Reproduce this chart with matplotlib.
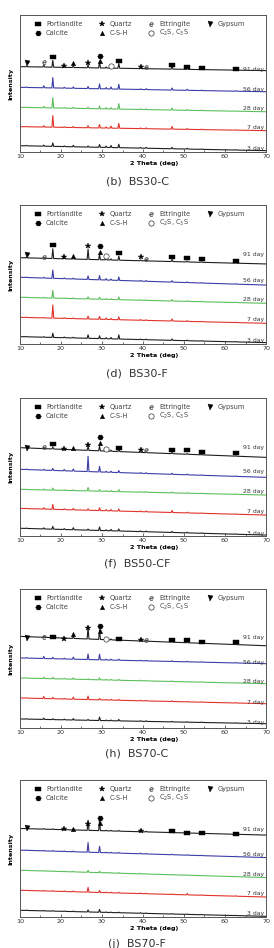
import matplotlib
matplotlib.use("Agg")
import matplotlib.pyplot as plt
from matplotlib.ticker import MultipleLocator

# -----------------------------
# data
# -----------------------------
DAYS = ["91 day", "56 day", "28 day", "7 day", "3 day"]
DAY_COLORS = ["#1e1e1e", "#3c3ca6", "#5cbf5c", "#e2332b", "#1e1e1e"]
CAPTIONS = ["(b)  BS30-C", "(d)  BS30-F", "(f)  BS50-CF", "(h)  BS70-C", "(j)  BS70-F"]

PEAK_POS = [11.6, 15.8, 18.0, 20.8, 23.0, 26.6, 29.4, 31.0, 32.2, 34.1,
            39.4, 40.8, 47.1, 50.8, 54.3, 62.6]

# peak heights (relative intensity), one row per day: 91, 56, 28, 7, 3
HEIGHTS_B = [
    [0.005, 0.015, 0.050, 0.008, 0.012, 0.020, 0.050, 0.008, 0.010, 0.035, 0.006, 0.008, 0.020, 0.010, 0.005, 0.005],
    [0.004, 0.015, 0.075, 0.006, 0.010, 0.015, 0.035, 0.010, 0.015, 0.035, 0.005, 0.006, 0.015, 0.008, 0.004, 0.004],
    [0.003, 0.010, 0.075, 0.005, 0.008, 0.010, 0.020, 0.008, 0.010, 0.040, 0.005, 0.006, 0.015, 0.006, 0.004, 0.003],
    [0.003, 0.010, 0.085, 0.005, 0.008, 0.015, 0.025, 0.008, 0.015, 0.035, 0.005, 0.006, 0.020, 0.006, 0.004, 0.003],
    [0.003, 0.008, 0.025, 0.005, 0.010, 0.008, 0.020, 0.010, 0.015, 0.025, 0.005, 0.006, 0.010, 0.006, 0.003, 0.003],
]
HEIGHTS_D = [
    [0.005, 0.006, 0.070, 0.010, 0.010, 0.075, 0.040, 0.012, 0.008, 0.030, 0.006, 0.005, 0.015, 0.006, 0.004, 0.004],
    [0.003, 0.005, 0.060, 0.006, 0.006, 0.025, 0.030, 0.010, 0.008, 0.025, 0.005, 0.005, 0.010, 0.005, 0.003, 0.003],
    [0.003, 0.004, 0.055, 0.004, 0.005, 0.015, 0.015, 0.006, 0.005, 0.020, 0.004, 0.004, 0.010, 0.004, 0.003, 0.003],
    [0.003, 0.004, 0.095, 0.005, 0.005, 0.020, 0.020, 0.010, 0.008, 0.020, 0.005, 0.004, 0.015, 0.005, 0.003, 0.003],
    [0.003, 0.004, 0.030, 0.005, 0.005, 0.025, 0.020, 0.008, 0.010, 0.030, 0.004, 0.004, 0.010, 0.004, 0.003, 0.003],
]
HEIGHTS_F = [
    [0.004, 0.006, 0.015, 0.006, 0.010, 0.030, 0.035, 0.006, 0.008, 0.015, 0.005, 0.005, 0.010, 0.005, 0.003, 0.003],
    [0.004, 0.006, 0.015, 0.010, 0.015, 0.110, 0.040, 0.006, 0.008, 0.015, 0.005, 0.005, 0.008, 0.005, 0.003, 0.003],
    [0.003, 0.006, 0.015, 0.005, 0.006, 0.025, 0.012, 0.005, 0.006, 0.015, 0.004, 0.005, 0.006, 0.004, 0.003, 0.003],
    [0.003, 0.010, 0.035, 0.006, 0.010, 0.010, 0.020, 0.008, 0.010, 0.015, 0.005, 0.006, 0.015, 0.005, 0.003, 0.003],
    [0.003, 0.008, 0.020, 0.006, 0.015, 0.008, 0.025, 0.006, 0.010, 0.015, 0.005, 0.005, 0.008, 0.005, 0.003, 0.003],
]
HEIGHTS_H = [
    [0.004, 0.010, 0.015, 0.008, 0.015, 0.085, 0.070, 0.006, 0.006, 0.010, 0.005, 0.005, 0.006, 0.004, 0.003, 0.003],
    [0.004, 0.015, 0.010, 0.006, 0.015, 0.040, 0.040, 0.005, 0.006, 0.008, 0.004, 0.004, 0.005, 0.004, 0.003, 0.003],
    [0.003, 0.010, 0.010, 0.005, 0.010, 0.006, 0.015, 0.004, 0.005, 0.006, 0.004, 0.004, 0.004, 0.003, 0.003, 0.003],
    [0.003, 0.015, 0.010, 0.005, 0.015, 0.025, 0.010, 0.004, 0.005, 0.006, 0.004, 0.004, 0.005, 0.003, 0.003, 0.003],
    [0.003, 0.010, 0.006, 0.005, 0.010, 0.006, 0.025, 0.004, 0.005, 0.010, 0.004, 0.004, 0.004, 0.003, 0.003, 0.003],
]
HEIGHTS_J = [
    [0.003, 0.004, 0.004, 0.005, 0.010, 0.073, 0.075, 0.004, 0.004, 0.005, 0.006, 0.004, 0.004, 0.003, 0.003, 0.003],
    [0.003, 0.003, 0.004, 0.004, 0.005, 0.070, 0.045, 0.004, 0.004, 0.005, 0.005, 0.004, 0.004, 0.003, 0.003, 0.003],
    [0.002, 0.003, 0.003, 0.003, 0.004, 0.015, 0.010, 0.003, 0.003, 0.004, 0.004, 0.003, 0.003, 0.003, 0.002, 0.002],
    [0.003, 0.003, 0.004, 0.004, 0.005, 0.035, 0.015, 0.004, 0.004, 0.005, 0.005, 0.004, 0.004, 0.010, 0.003, 0.003],
    [0.003, 0.003, 0.003, 0.003, 0.004, 0.015, 0.020, 0.003, 0.003, 0.004, 0.004, 0.003, 0.003, 0.003, 0.002, 0.002],
]

# baseline level at 10 deg and at the end of the scan
BASE_B = [(0.623, 0.594), (0.472, 0.440), (0.326, 0.294), (0.185, 0.156), (0.046, 0.010)]
BASE_D = [(0.621, 0.576), (0.480, 0.424), (0.336, 0.293), (0.192, 0.149), (0.053, 0.010)]
BASE_F = [(0.640, 0.570), (0.483, 0.425), (0.338, 0.297), (0.200, 0.152), (0.056, 0.007)]
BASE_H = [(0.659, 0.592), (0.504, 0.463), (0.360, 0.319), (0.216, 0.175), (0.065, 0.031)]
BASE_J = [(0.646, 0.598), (0.488, 0.434), (0.341, 0.288), (0.195, 0.146), (0.049, 0.005)]

# day label heights
LABEL_Y_B = [0.605, 0.457, 0.319, 0.178, 0.027]
LABEL_Y_D = [0.647, 0.460, 0.317, 0.173, 0.024]
LABEL_Y_F = [0.640, 0.464, 0.319, 0.176, 0.019]
LABEL_Y_H = [0.650, 0.472, 0.331, 0.185, 0.041]
LABEL_Y_J = [0.639, 0.456, 0.312, 0.171, 0.029]

# phase marks over the 91 day trace: (phase, 2theta, height)
MARKS_B = [("G", 11.7, 0.647), ("E", 15.8, 0.655), ("P", 18.0, 0.696), ("Q", 20.8, 0.630),
           ("H", 23.0, 0.647), ("Q", 26.6, 0.647), ("C", 29.4, 0.701), ("H", 29.4, 0.664),
           ("S", 32.2, 0.630), ("P", 34.1, 0.667), ("Q", 39.4, 0.623), ("E", 40.8, 0.623),
           ("P", 47.1, 0.635), ("P", 50.8, 0.618), ("P", 54.3, 0.611), ("P", 62.6, 0.603)]
MARKS_D = [("G", 11.7, 0.640), ("E", 15.8, 0.628), ("P", 18.0, 0.712), ("Q", 20.8, 0.628),
           ("H", 23.0, 0.633), ("Q", 26.6, 0.705), ("C", 29.4, 0.705), ("H", 29.4, 0.664),
           ("S", 31.0, 0.633), ("P", 34.1, 0.652), ("Q", 39.4, 0.624), ("E", 40.8, 0.609),
           ("P", 47.1, 0.628), ("P", 50.8, 0.616), ("P", 54.3, 0.609), ("P", 62.6, 0.600)]
MARKS_F = [("G", 11.7, 0.635), ("E", 15.8, 0.647), ("P", 18.0, 0.664), ("Q", 20.8, 0.630),
           ("H", 23.0, 0.640), ("Q", 26.6, 0.659), ("C", 29.4, 0.715), ("H", 29.4, 0.671),
           ("S", 31.0, 0.628), ("P", 34.1, 0.635), ("Q", 39.4, 0.623), ("E", 40.8, 0.623),
           ("P", 47.1, 0.623), ("P", 50.8, 0.623), ("P", 54.3, 0.611), ("P", 62.6, 0.604)]
MARKS_H = [("G", 11.7, 0.647), ("E", 15.8, 0.655), ("P", 18.0, 0.655), ("Q", 20.8, 0.640),
           ("H", 23.0, 0.679), ("Q", 26.6, 0.719), ("C", 29.4, 0.736), ("H", 29.4, 0.695),
           ("S", 31.0, 0.640), ("P", 34.1, 0.640), ("Q", 39.4, 0.631), ("E", 40.8, 0.631),
           ("P", 47.1, 0.635), ("P", 50.8, 0.631), ("P", 54.3, 0.619), ("P", 62.6, 0.616)]
MARKS_J = [("G", 11.7, 0.646), ("Q", 20.8, 0.639), ("H", 23.0, 0.639), ("Q", 26.6, 0.678),
           ("C", 29.4, 0.724), ("H", 29.4, 0.683), ("Q", 39.4, 0.629),
           ("P", 47.1, 0.629), ("P", 50.8, 0.615), ("P", 54.3, 0.610), ("P", 62.6, 0.605)]

LEGEND_ROWS = [[("P", "Portlandite"), ("Q", "Quartz"), ("E", "Ettringite"), ("G", "Gypsum")],
               [("C", "Calcite"), ("H", "C-S-H"), ("S", "C$_2$S, C$_3$S")]]

# -----------------------------
# styles / layout
# -----------------------------
RECT = [(-1.8, -1.0), (1.8, -1.0), (1.8, 1.0), (-1.8, 1.0), (-1.8, -1.0)]
MARK_STYLE = {
    "P": dict(marker=RECT, ms=4.6, mfc="k", mec="k", mew=0.3),
    "Q": dict(marker="*", ms=3.8, mfc="k", mec="k", mew=0.3),
    "E": dict(marker="$e$", ms=3.0, mfc="#444", mec="#444", mew=0.2),
    "G": dict(marker="v", ms=3.6, mfc="k", mec="k", mew=0.3),
    "C": dict(marker="H", ms=4.0, mfc="k", mec="k", mew=0.3),
    "H": dict(marker="^", ms=3.2, mfc="k", mec="k", mew=0.3),
    "S": dict(marker="o", ms=3.8, mfc="white", mec="#333", mew=0.5),
}
FIG_W, FIG_H = 274, 948
AX_LEFT, AX_RIGHT = 20, 266
PANEL_PX = [(15, 152), (205, 344), (398, 536), (589, 728), (780, 917)]
CAPTION_PX = [182, 373, 563, 754, 944]
X_END = 69.9
HALF = 0.22


def trace(start, end, heights):
    slope = (end - start) / (X_END - 10.0)
    xs, ys = [10.0], [start]
    for p, h in zip(PEAK_POS, heights):
        for x, dy in ((p - HALF, 0.0), (p, h), (p + HALF, 0.0)):
            xs.append(x)
            ys.append(start + slope * (x - 10.0) + dy)
    xs.append(X_END)
    ys.append(end)
    return xs, ys


def draw_panel(ax, heights, bases, label_y, marks):
    for i, day in enumerate(DAYS):
        xs, ys = trace(bases[i][0], bases[i][1], heights[i])
        ax.plot(xs, ys, color=DAY_COLORS[i], lw=0.8)
        ax.text(69.6, label_y[i], day, ha="right", va="center",
                fontsize=4.4, color="#333")

    for kind, x, y in marks:
        ax.plot([x], [y], ls="none", **MARK_STYLE[kind])

    # legend drawn by hand, two rows
    col_x = [0.073, 0.333, 0.533, 0.772]
    for r, row in enumerate(LEGEND_ROWS):
        yy = 0.935 - r * 0.067
        for c, (kind, name) in enumerate(row):
            ax.plot([col_x[c]], [yy], ls="none", transform=ax.transAxes,
                    clip_on=False, **MARK_STYLE[kind])
            ax.text(col_x[c] + 0.033, yy, name, transform=ax.transAxes,
                    ha="left", va="center", fontsize=4.8, color="#444")

    ax.set_xlim(10, 70)
    ax.set_ylim(0, 1)
    ax.xaxis.set_major_locator(MultipleLocator(10))
    ax.xaxis.set_minor_locator(MultipleLocator(5))
    ax.tick_params(axis="x", which="major", direction="in", length=2.2,
                   width=0.5, labelsize=4.6, pad=1.5, colors="#333")
    ax.tick_params(axis="x", which="minor", direction="in", length=1.3, width=0.4)
    ax.set_yticks([])
    for s in ax.spines.values():
        s.set_linewidth(0.7)
        s.set_color("#555")

    ax.set_ylabel("Intensity", fontsize=4.6, fontweight="bold", labelpad=4.5)
    ax.text(0.545, -0.085, "2 Theta (deg)", transform=ax.transAxes,
            ha="center", va="center", fontsize=4.6, fontweight="bold")


fig = plt.figure(figsize=(FIG_W / 100, FIG_H / 100), dpi=100)
panel_data = [
    (HEIGHTS_B, BASE_B, LABEL_Y_B, MARKS_B),
    (HEIGHTS_D, BASE_D, LABEL_Y_D, MARKS_D),
    (HEIGHTS_F, BASE_F, LABEL_Y_F, MARKS_F),
    (HEIGHTS_H, BASE_H, LABEL_Y_H, MARKS_H),
    (HEIGHTS_J, BASE_J, LABEL_Y_J, MARKS_J),
]

for k, (top, bottom) in enumerate(PANEL_PX):
    ax = fig.add_axes([AX_LEFT / FIG_W, 1 - bottom / FIG_H,
                       (AX_RIGHT - AX_LEFT) / FIG_W, (bottom - top) / FIG_H])
    draw_panel(ax, *panel_data[k])
    fig.text(0.5, 1 - CAPTION_PX[k] / FIG_H, CAPTIONS[k], ha="center", va="center",
             fontsize=8, color="#333",
             family=["Liberation Sans Narrow", "DejaVu Sans"])

fig.savefig("out.png", dpi=100)
plt.close(fig)
